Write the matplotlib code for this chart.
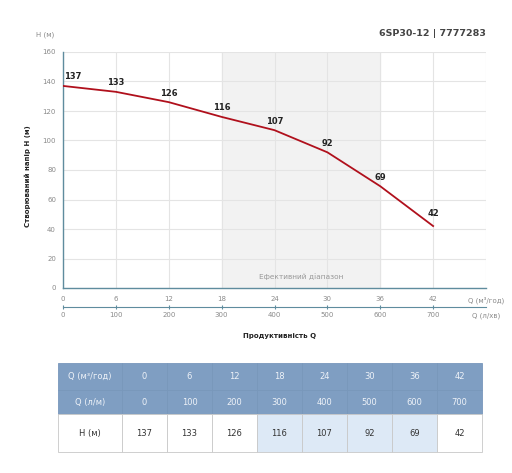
import matplotlib.pyplot as plt
from matplotlib.patches import Rectangle

plt.rcParams['font.family'] = ['DejaVu Sans']

# data
q_m3h = [0, 6, 12, 18, 24, 30, 36, 42]
q_lmin = [0, 100, 200, 300, 400, 500, 600, 700]
head = [137, 133, 126, 116, 107, 92, 69, 42]
title = '6SP30-12 | 7777283'

W, H = 512, 473
fig = plt.figure(figsize=(W / 100, H / 100), dpi=100)

def box(l, t, r, b):
    return [l / W, 1 - b / H, (r - l) / W, (b - t) / H]

spine_c = '#5f8c9e'
tick_c = '#8a8a8a'

ax = fig.add_axes(box(63, 52, 486, 288))
ax.set_xlim(0, 48)
ax.set_ylim(0, 160)
ax.axvspan(18, 36, color='#f2f2f2', zorder=0)
ax.set_xticks(q_m3h + [48], [str(v) for v in q_m3h] + ['Q (м³/год)'])
ax.set_yticks(range(0, 161, 20))
ax.grid(True, color='#e4e4e4', lw=0.8)
ax.set_axisbelow(True)
ax.tick_params(axis='both', length=0, labelsize=5, labelcolor=tick_c, pad=5)
ax.tick_params(axis='x', pad=6)
for s in ['top', 'right']:
    ax.spines[s].set_visible(False)
for s in ['left', 'bottom']:
    ax.spines[s].set_color(spine_c)
    ax.spines[s].set_linewidth(1.0)

ax.plot(q_m3h, head, color='#b0101c', lw=1.3, zorder=3)
for i, (x, y) in enumerate(zip(q_m3h, head)):
    dx, ha = (1, 'left') if i == 0 else (0, 'center')
    dy = 9 if i == len(head) - 1 else 6.5
    ax.annotate(str(y), (x, y), xytext=(dx, dy), textcoords='offset points',
                fontsize=6, fontweight='bold', color='#222222', ha=ha, va='center')

ax.text(27, 8, 'Ефективний діапазон', fontsize=5.3, color='#999999', ha='center', va='center')

sec = ax.secondary_xaxis(-0.08, functions=(lambda x: x * 100 / 6, lambda x: x * 6 / 100))
sec.set_xticks(q_lmin)
sec.spines['bottom'].set_color(spine_c)
sec.tick_params(axis='x', length=3, direction='inout', color=spine_c, labelsize=5,
                labelcolor=tick_c, pad=2)
ax.text(48, -0.118, 'Q (л/хв)', transform=ax.get_xaxis_transform(), fontsize=5,
        color=tick_c, ha='center', va='center')

fig.text(54 / W, 1 - 35 / H, 'Н (м)', fontsize=5, color=tick_c, ha='right', va='center')
fig.text(486 / W, 1 - 34 / H, title, fontsize=6.8, fontweight='bold', color='#444444',
         ha='right', va='center')
fig.text(28 / W, 1 - 176 / H, 'Створюваний напір Н (м)', rotation=90, fontsize=5,
         fontweight='bold', color='#222222', ha='center', va='center')
fig.text(280 / W, 1 - 336 / H, 'Продуктивність Q', fontsize=5, fontweight='bold',
         color='#222222', ha='center', va='center')

# table
tl, tt, tr, tb = 58, 363, 482, 452
tax = fig.add_axes(box(tl, tt, tr, tb))
tax.set_xlim(0, tr - tl)
tax.set_ylim(tb - tt, 0)
tax.axis('off')
col_w = [64] + [45] * len(q_m3h)
row_h = [27, 24, 38]
rows = [['Q (м³/год)'] + [str(v) for v in q_m3h],
        ['Q (л/м)'] + [str(v) for v in q_lmin],
        ['Н (м)'] + [str(v) for v in head]]
y0 = 0
for ri, (hgt, row) in enumerate(zip(row_h, rows)):
    x0 = 0
    for ci, (wd, txt) in enumerate(zip(col_w, row)):
        if ri < 2:
            fc, ec, tc = '#7f9ec2', '#7897bb', '#eef2f8'
        else:
            fc = '#dde9f6' if 4 <= ci <= 7 else '#ffffff'
            ec, tc = '#c8c8c8', '#333333'
        tax.add_patch(Rectangle((x0, y0), wd, hgt, fc=fc, ec=ec, lw=0.6, clip_on=False))
        tax.text(x0 + wd / 2, y0 + hgt / 2, txt, fontsize=6, color=tc,
                 ha='center', va='center')
        x0 += wd
    y0 += hgt

fig.savefig('out.png', dpi=100)
